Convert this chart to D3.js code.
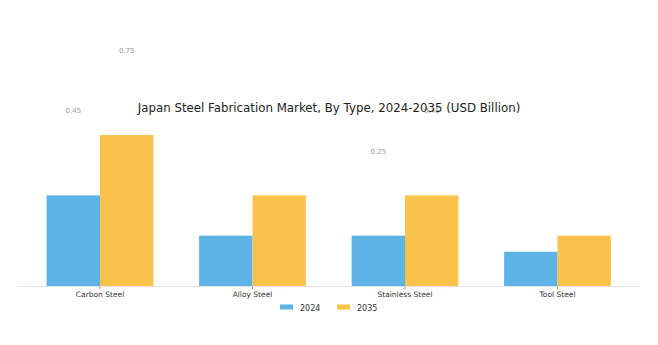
<!DOCTYPE html>
<html><head><meta charset="utf-8">
<script src="https://cdn.jsdelivr.net/npm/d3@7"></script>
<style>body{margin:0;background:#fff}svg{display:block}</style>
</head><body>
<script>
const categories = ["Carbon Steel", "Alloy Steel", "Stainless Steel", "Tool Steel"];
const seriesNames = ["2024", "2035"];
const values2024 = [0.45, 0.25, 0.25, 0.17];
const values2035 = [0.75, 0.45, 0.45, 0.25];
const labelledCategories = ["Carbon Steel", "Stainless Steel"];
const colors = ["#5db3e6", "#f9c34b"];
const title = "Japan Steel Fabrication Market, By Type, 2024-2035 (USD Billion)";

const W = 658, H = 345;
const svg = d3.select("body").append("svg").attr("width", W).attr("height", H);
const font = "DejaVu Sans, sans-serif";

const x = d3.scaleBand().domain(categories).range([23.75, 633.75]).paddingInner(0.3).paddingOuter(0.15);
const xs = d3.scaleBand().domain(seriesNames).range([0, x.bandwidth()]);
const y = d3.scaleLinear().domain([0, 0.75]).range([286, 135]);

const rows = categories.map((c, i) => ({c, vals: [values2024[i], values2035[i]]}));

// value labels (offset above bars as in reference)
rows.filter(r => labelledCategories.includes(r.c)).forEach(r => {
  r.vals.forEach((v, j) => {
    svg.append("text").attr("x", x(r.c) + xs(seriesNames[j]) + xs.bandwidth() / 2)
      .attr("y", y(v) - 82).attr("text-anchor", "middle")
      .attr("font-family", font).attr("font-size", 7).attr("fill", "#999")
      .text(v.toFixed(2));
  });
});

svg.append("text").attr("x", 329).attr("y", 112).attr("text-anchor", "middle")
  .attr("font-family", font).attr("font-size", 11.8).attr("fill", "#222").text(title);

const g = svg.append("g");
rows.forEach(r => {
  r.vals.forEach((v, j) => {
    g.append("rect").attr("x", x(r.c) + xs(seriesNames[j])).attr("width", xs.bandwidth())
      .attr("y", y(v)).attr("height", y(0) - y(v)).attr("fill", colors[j]);
  });
});

svg.append("line").attr("x1", 18).attr("x2", 640).attr("y1", 286.5).attr("y2", 286.5)
  .attr("stroke", "#e3e3e3").attr("stroke-width", 1);

const ax = svg.append("g").attr("transform", "translate(0,286.5)")
  .call(d3.axisBottom(x).tickSize(3).tickPadding(2));
ax.select(".domain").remove();
ax.selectAll(".tick line").attr("stroke", "#999");
ax.selectAll(".tick text").attr("font-family", font).attr("font-size", 7.5).attr("fill", "#333");

const leg = svg.append("g");
const legX = [280, 337];
seriesNames.forEach((s, j) => {
  leg.append("rect").attr("x", legX[j]).attr("y", 304.5).attr("width", 13).attr("height", 5).attr("fill", colors[j]);
  leg.append("text").attr("x", legX[j] + 20).attr("y", 310.5).attr("font-family", font)
    .attr("font-size", 8).attr("fill", "#333").text(s);
});
</script>
</body></html>
